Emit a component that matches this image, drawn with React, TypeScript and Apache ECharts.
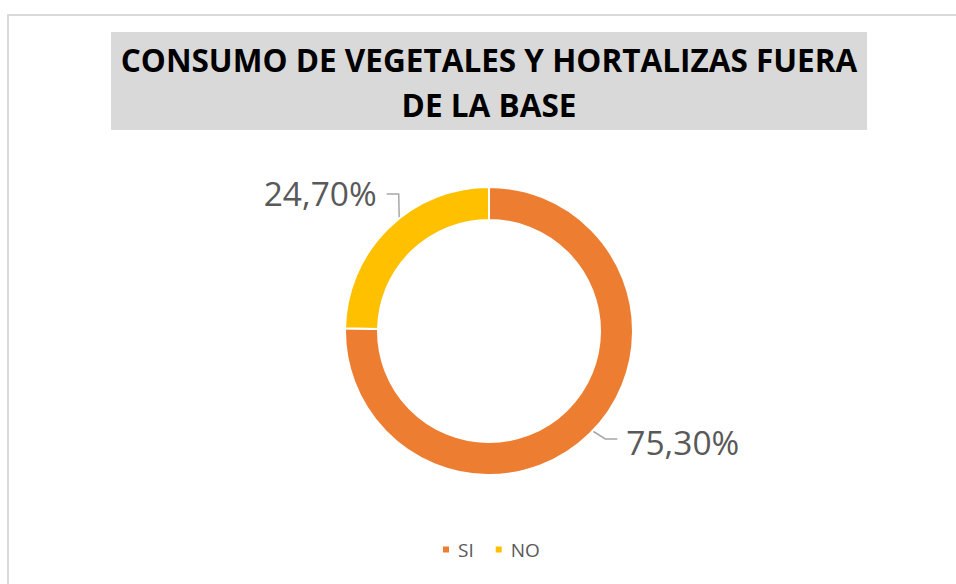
import React, { useEffect, useRef } from "react";
import * as echarts from "echarts";

const categories = ["SI", "NO"];
const values = [75.3, 24.7];
const colors = ["#ED7D31", "#FFC000"];
const titleLines = ["CONSUMO DE VEGETALES Y HORTALIZAS FUERA", "DE LA BASE"];

const CX = 489;
const CY = 331;
const R_IN = 111;
const R_OUT = 144;

function fmt(v: number) {
  return v.toFixed(2).replace(".", ",") + "%";
}

export default function App() {
  const ref = useRef<HTMLDivElement>(null);
  useEffect(() => {
    if (!ref.current) return;
    const chart = echarts.init(ref.current, undefined, { renderer: "svg" });
    const total = values.reduce((a, b) => a + b, 0);
    const mids: number[] = [];
    let cum = 0;
    values.forEach((v) => {
      mids.push(((cum + v / 2) / total) * Math.PI * 2);
      cum += v;
    });
    const rMid = (R_IN + R_OUT) / 2;
    chart.setOption({
      animation: false,
      backgroundColor: "#ffffff",
      color: colors,
      graphic: [
        {
          type: "rect",
          z: -10,
          shape: { x: 8, y: 15, width: 1000, height: 700 },
          style: { fill: "none", stroke: "#d9d9d9", lineWidth: 2 },
        },
        {
          type: "rect",
          z: -5,
          shape: { x: 111, y: 32, width: 756, height: 98 },
          style: { fill: "#d9d9d9" },
        },
        {
          type: "text",
          x: 489,
          y: 59,
          scaleX: 0.985,
          style: {
            text: titleLines[0],
            fill: "#000000",
            font: "bold 32px 'Open Sans'",
            textAlign: "center",
            textVerticalAlign: "middle",
          },
        },
        {
          type: "text",
          x: 489,
          y: 104,
          scaleX: 0.985,
          style: {
            text: titleLines[1],
            fill: "#000000",
            font: "bold 32px 'Open Sans'",
            textAlign: "center",
            textVerticalAlign: "middle",
          },
        },
      ],
      legend: {
        data: categories,
        bottom: 20,
        left: 436,
        icon: "rect",
        itemWidth: 8,
        itemHeight: 8,
        itemGap: 20,
        textStyle: {
          color: "#595959",
          fontSize: 19,
          fontFamily: "Open Sans",
          padding: [0, 0, 0, 3],
        },
      },
      series: [
        {
          type: "pie",
          center: [CX, CY],
          radius: [R_IN, R_OUT],
          startAngle: 90,
          clockwise: true,
          avoidLabelOverlap: false,
          itemStyle: { borderColor: "#ffffff", borderWidth: 2 },
          label: {
            show: true,
            position: "outside",
            formatter: (p: any) => fmt(p.value),
            color: "#595959",
            fontSize: 33.5,
            fontFamily: "Open Sans",
          },
          labelLine: {
            show: true,
            lineStyle: { color: "#a6a6a6", width: 1.5 },
          },
          labelLayout: (params: any) => {
            const th = mids[params.dataIndex];
            const ax = CX + rMid * Math.sin(th);
            const ay = CY - rMid * Math.cos(th);
            if (Math.sin(th) > 0) {
              const bx = ax + 27;
              const by = ay + 17;
              const cx = bx + 12;
              return {
                x: cx + 9,
                y: by + 3,
                align: "left",
                verticalAlign: "middle",
                labelLinePoints: [
                  [ax, ay],
                  [bx, by],
                  [cx, by],
                ],
              };
            } else {
              const bx = ax - 1;
              const by = ay - 46;
              const cx = bx - 12;
              return {
                x: cx - 10,
                y: by - 1,
                align: "right",
                verticalAlign: "middle",
                labelLinePoints: [
                  [ax, ay],
                  [bx, by],
                  [cx, by],
                ],
              };
            }
          },
          data: categories.map((c, i) => ({ name: c, value: values[i] })),
        },
      ],
    });
    return () => chart.dispose();
  }, []);
  return (
    <div
      ref={ref}
      style={{ position: "fixed", left: 0, top: 0, width: 956, height: 584 }}
    />
  );
}
